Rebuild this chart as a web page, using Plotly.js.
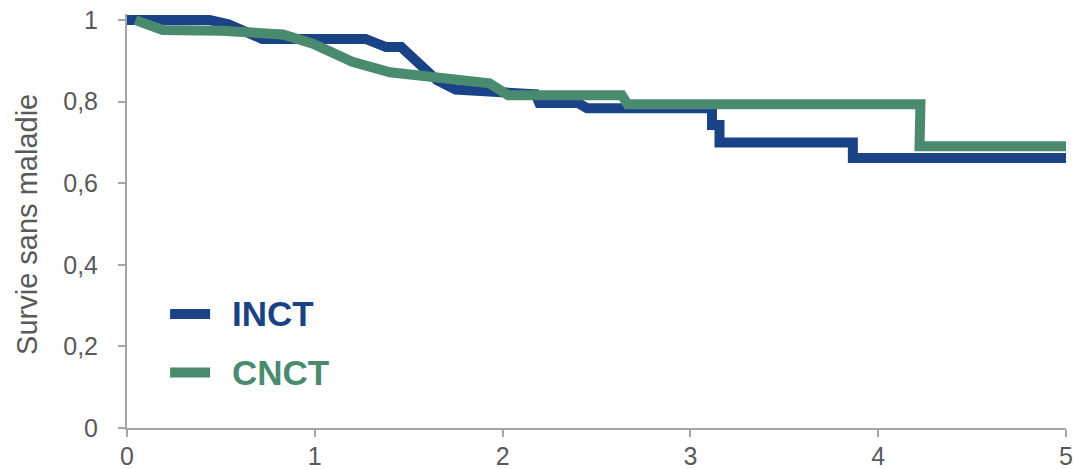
<!DOCTYPE html>
<html>
<head>
<meta charset="utf-8">
<script src="https://cdn.plot.ly/plotly-3.0.1.min.js"></script>
<style>
  html, body { margin: 0; padding: 0; background: #ffffff; }
  #chart { width: 1074px; height: 469px; }
</style>
</head>
<body>
<div id="chart"></div>
<script>
// Survie sans maladie par groupe (années)
const seriesNames = ["INCT", "CNCT"];
const seriesColors = ["#1a4387", "#4a8a6f"];
const yTitle = "Survie sans maladie";

const inctYears = [0, 0.44, 0.54, 0.72, 1.27, 1.38, 1.46, 1.54, 1.65, 1.75, 1.95, 2.05, 2.175, 2.195, 2.40, 2.45, 3.115, 3.115, 3.155, 3.155, 3.865, 3.865, 5.03];
const inctSurvival = [1, 1, 0.99, 0.954, 0.954, 0.934, 0.934, 0.90, 0.853, 0.83, 0.822, 0.818, 0.818, 0.797, 0.797, 0.784, 0.784, 0.743, 0.743, 0.70, 0.70, 0.662, 0.662];

const cnctYears = [0.045, 0.19, 0.5, 0.83, 0.99, 1.2, 1.4, 1.61, 1.93, 2.03, 2.635, 2.665, 4.225, 4.22, 5.03];
const cnctSurvival = [1.0, 0.976, 0.974, 0.965, 0.942, 0.898, 0.872, 0.862, 0.845, 0.816, 0.816, 0.794, 0.794, 0.691, 0.691];

const xTicks = [0, 1, 2, 3, 4, 5];
const yTicks = [0, 0.2, 0.4, 0.6, 0.8, 1];

const font = "Liberation Sans, Arial, sans-serif";
const grey = "#595959";
const axisGrey = "#a6a6a6";

const traces = [
  { x: inctYears, y: inctSurvival, name: seriesNames[0] },
  { x: cnctYears, y: cnctSurvival, name: seriesNames[1] }
].map((t, i) => Object.assign(t, {
  type: "scatter",
  mode: "lines",
  line: { color: seriesColors[i], width: 10, shape: "linear" },
  hoverinfo: "x+y+name"
}));

// Légende dessinée à gauche dans la zone du graphique
const legendRows = [0.2754, 0.134];
const shapes = seriesNames.map((n, i) => ({
  type: "line", xref: "paper", yref: "paper",
  x0: 0.0459, x1: 0.0885, y0: legendRows[i], y1: legendRows[i],
  line: { color: seriesColors[i], width: 10 }
}));
const annotations = seriesNames.map((n, i) => ({
  xref: "paper", yref: "paper", x: 0.1095, y: legendRows[i],
  xanchor: "left", yanchor: "middle", showarrow: false,
  text: "<b>" + n + "</b>",
  font: { family: font, size: 35, color: seriesColors[i] }
}));
// Titre de l'axe vertical
annotations.push({
  xref: "paper", yref: "paper", x: -0.1065, y: 0.493,
  xanchor: "center", yanchor: "middle", showarrow: false, textangle: -90,
  text: yTitle,
  font: { family: font, size: 29, color: grey }
});

const layout = {
  width: 1074, height: 469,
  margin: { l: 127, r: 8, t: 14, b: 41 },
  paper_bgcolor: "#ffffff", plot_bgcolor: "#ffffff",
  separators: ", ",
  showlegend: false,
  font: { family: font, color: grey },
  xaxis: {
    range: [0, 5], tickvals: xTicks, ticktext: xTicks.map(String),
    showgrid: false, zeroline: false, showline: true, linecolor: axisGrey, linewidth: 2,
    ticks: "outside", ticklen: 7, tickwidth: 2, tickcolor: axisGrey,
    ticklabeloverflow: "allow", ticklabelstandoff: -2,
    tickfont: { family: font, size: 25, color: grey }
  },
  yaxis: {
    range: [0, 1.015], tickvals: yTicks, ticktext: yTicks.map(v => String(v).replace(".", ",")),
    showgrid: false, zeroline: false, showline: true, linecolor: axisGrey, linewidth: 2,
    ticks: "outside", ticklen: 7, tickwidth: 2, tickcolor: axisGrey,
    ticklabelstandoff: 15, ticklabeloverflow: "allow",
    tickfont: { family: font, size: 25, color: grey }
  },
  shapes: shapes,
  annotations: annotations
};

Plotly.newPlot("chart", traces, layout, { staticPlot: true, displayModeBar: false });
</script>
</body>
</html>
